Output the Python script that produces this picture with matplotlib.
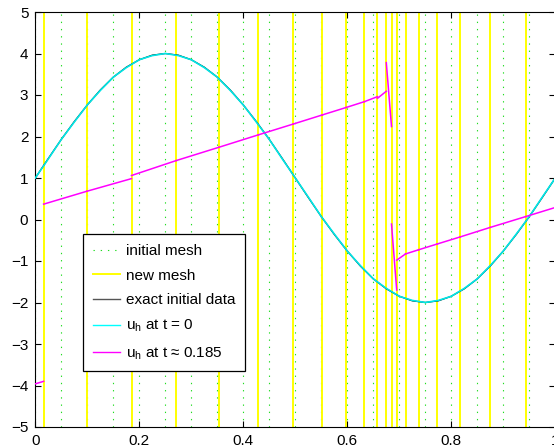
import numpy as np
import matplotlib
matplotlib.use("Agg")
import matplotlib.pyplot as plt
from matplotlib.lines import Line2D

plt.rcParams['font.family'] = ['Liberation Sans', 'DejaVu Sans']
plt.rcParams['mathtext.fontset'] = 'custom'
plt.rcParams['mathtext.rm'] = 'Liberation Sans'
plt.rcParams['mathtext.it'] = 'Liberation Sans'

# ---- data ----
initial_mesh = [0.0, 0.05, 0.1, 0.15, 0.2, 0.25, 0.3, 0.35, 0.4, 0.45, 0.5,
                0.55, 0.6, 0.65, 0.7, 0.75, 0.8, 0.85, 0.9, 0.95, 1.0]

sample_x = [0.0, 0.025, 0.05, 0.075, 0.1, 0.125, 0.15, 0.175, 0.2, 0.225, 0.25,
            0.275, 0.3, 0.325, 0.35, 0.375, 0.4, 0.425, 0.45, 0.475, 0.5,
            0.525, 0.55, 0.575, 0.6, 0.625, 0.65, 0.675, 0.7, 0.725, 0.75,
            0.775, 0.8, 0.825, 0.85, 0.875, 0.9, 0.925, 0.95, 0.975, 1.0]
exact_values = [1.00, 1.47, 1.93, 2.36, 2.76, 3.12, 3.43, 3.67, 3.85, 3.96, 4.00,
                3.96, 3.85, 3.67, 3.43, 3.12, 2.76, 2.36, 1.93, 1.47, 1.00,
                0.53, 0.07, -0.36, -0.76, -1.12, -1.43, -1.67, -1.85, -1.96, -2.00,
                -1.96, -1.85, -1.67, -1.43, -1.12, -0.76, -0.36, 0.07, 0.53, 1.00]
uh0_values = [1.00, 1.46, 1.93, 2.35, 2.76, 3.11, 3.43, 3.66, 3.85, 3.95, 4.00,
              3.95, 3.85, 3.66, 3.43, 3.11, 2.76, 2.35, 1.93, 1.46, 1.00,
              0.54, 0.07, -0.35, -0.76, -1.11, -1.43, -1.66, -1.85, -1.95, -2.00,
              -1.95, -1.85, -1.66, -1.43, -1.11, -0.76, -0.35, 0.07, 0.54, 1.00]

new_mesh = [0.0, 0.016, 0.099, 0.185, 0.271, 0.353, 0.429, 0.496, 0.552, 0.598,
            0.633, 0.658, 0.675, 0.685, 0.695, 0.712, 0.737, 0.773, 0.817, 0.875,
            0.943, 1.0]
# u_h at t = 0.185: left / right value on each element of the new mesh
uh_left = [-3.96, 0.37, 0.68, 1.06, 1.42, 1.74, 2.04, 2.30, 2.52, 2.70,
           2.84, 2.92, 3.78, -0.11, -0.98, -0.83, -0.73, -0.59, -0.42, -0.19, 0.07]
uh_right = [-3.90, 0.68, 0.985, 1.42, 1.74, 2.04, 2.30, 2.52, 2.70, 2.84,
            2.96, 3.09, 2.24, -1.70, -0.83, -0.73, -0.59, -0.42, -0.19, 0.07, 0.29]

y_ticks = [5, 4, 3, 2, 1, 0, -1, -2, -3, -4, -5]
x_ticks = [0, 0.2, 0.4, 0.6, 0.8, 1.0]
x_ticklabels = ['0', '0.2', '0.4', '0.6', '0.8', '1']

labels = ['initial mesh', 'new mesh', 'exact initial data',
          r'u$_{\mathrm{h}}$ at t = 0', r'u$_{\mathrm{h}}$ at t ≈ 0.185']

# ---- figure ----
fig = plt.figure(figsize=(5.54, 4.47), dpi=100)
ax = fig.add_axes([35.3 / 554, 20 / 447, 520 / 554, 415 / 447])

green = '#22dd22'
for xm in initial_mesh:
    ax.axvline(xm, color=green, lw=0.8, ls=(0, (1.2, 5.3)), zorder=1)
for xm in new_mesh:
    ax.axvline(xm, color='#ffff00', lw=1.4, zorder=2)

ax.plot(sample_x, exact_values, color='black', lw=0.9, zorder=3)
ax.plot(sample_x, uh0_values, color='#00e8e8', lw=1.2, zorder=4)

for i in range(len(uh_left)):
    ax.plot([new_mesh[i], new_mesh[i + 1]], [uh_left[i], uh_right[i]],
            color='#ff00ff', lw=1.1, zorder=5)

ax.set_xlim(0, 1)
ax.set_ylim(-5, 5)
ax.set_xticks(x_ticks)
ax.set_xticklabels(x_ticklabels)
ax.set_yticks(y_ticks)
ax.set_yticklabels([str(v).replace('-', '\u2212') for v in y_ticks])
ax.tick_params(direction='in', length=4, width=0.8, top=True, right=True,
               labelsize=11, pad=5, colors='black')
for s in ax.spines.values():
    s.set_linewidth(0.8)

handles = [
    Line2D([], [], color=green, lw=0.8, ls=(0, (1.2, 5.3))),
    Line2D([], [], color='#ffff00', lw=1.4),
    Line2D([], [], color='#555555', lw=1.0),
    Line2D([], [], color='#00ffff', lw=1.0),
    Line2D([], [], color='#ff00ff', lw=1.0),
]
leg = ax.legend(handles, labels, loc='upper left',
                bbox_to_anchor=(0.0917, 0.465), borderaxespad=0,
                fontsize=11, frameon=True, fancybox=False, framealpha=1,
                edgecolor='black', handlelength=1.8, handletextpad=0.35,
                labelspacing=0.7, borderpad=0.65)
leg.get_frame().set_linewidth(0.9)
leg.set_zorder(10)

fig.savefig('out.png', dpi=100)
